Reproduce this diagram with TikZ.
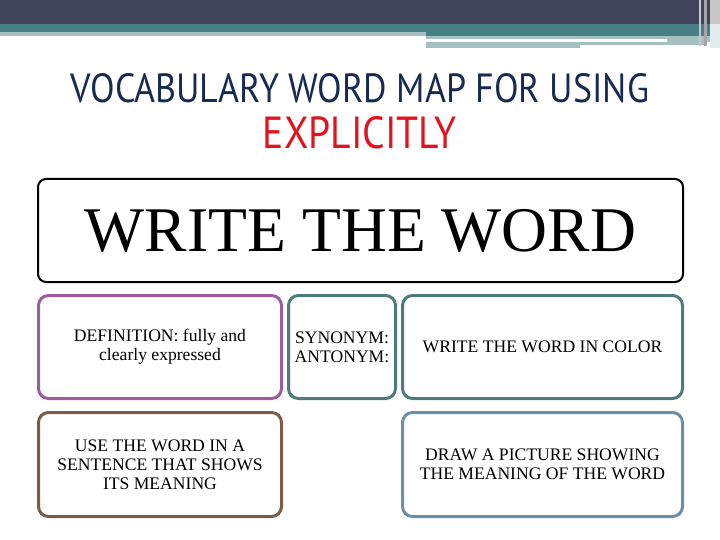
\documentclass[tikz,border=0pt]{standalone}
\usepackage{fontspec}
\setmainfont{Liberation Serif}
\setsansfont{PT Sans}
\usepackage{graphicx}
\definecolor{topdark}{HTML}{41435A}
\definecolor{topteal}{HTML}{467F84}
\definecolor{toplight}{HTML}{A6C0C2}
\definecolor{titlenavy}{HTML}{172B52}
\definecolor{titlered}{HTML}{E0141E}
\definecolor{cpurple}{HTML}{9C5D9C}
\definecolor{cteal}{HTML}{4E7B7B}
\definecolor{cbrown}{HTML}{7D5C45}
\definecolor{cblue}{HTML}{6B8FA8}
\tikzset{
  cell/.style={draw=#1, line width=3pt, rounded corners=10pt, align=center,
    inner sep=2pt, font=\fontsize{17.6}{19}\selectfont, text=black},
  bigcell/.style={draw=black, line width=2pt, rounded corners=8pt, align=center, inner sep=0pt},
}
\begin{document}
\begin{tikzpicture}[x=1pt,y=-1pt]
\useasboundingbox (0,0) rectangle (720,540);
% header bands
\fill[topdark] (0,0) rectangle (720,24);
\fill[topteal] (0,24) rectangle (426,32);
\fill[toplight] (0,32) rectangle (426,36);
\fill[topteal] (426,24) rectangle (720,36);
\fill[toplight] (426,36) rectangle (720,39);
\fill[toplight] (667,39) rectangle (720,42);
\fill[toplight] (426,42) rectangle (580,48);
\fill[toplight] (580,42) rectangle (707,45);
\fill[white!70!topdark] (699,0) rectangle (701,46);
\fill[black!35] (704,0) rectangle (707,46);
\fill[black!22] (710,0) rectangle (720,24);
\fill[white!85!topteal] (710,24) rectangle (720,48);
% title
\node[inner sep=0pt, text=titlenavy] (t1) at (360,88)
  {\resizebox{578pt}{29pt}{\sffamily VOCABULARY WORD MAP FOR USING}};
\node[inner sep=0pt, text=titlered] (t2) at (360,133)
  {\resizebox{194pt}{32pt}{\sffamily EXPLICITLY}};
% boxes
\node[bigcell, minimum width=645pt, minimum height=103pt] (word) at (360.5,230.5)
  {\resizebox{551pt}{!}{WRITE THE WORD}};
\node[cell=cpurple, minimum width=243pt, minimum height=103pt] (def) at (160,347)
  {DEFINITION:\ fully and\\clearly expressed};
\node[cell=cteal, minimum width=107pt, minimum height=103pt] (syn) at (342,347)
  {SYNONYM:\\ANTONYM:};
\node[cell=cteal, minimum width=280pt, minimum height=103pt] (color) at (542.5,347)
  {WRITE THE WORD IN COLOR};
\node[cell=cbrown, minimum width=243pt, minimum height=104pt] (sent) at (160,464.5)
  {USE THE WORD IN A\\SENTENCE THAT SHOWS\\ITS MEANING};
\node[cell=cblue, minimum width=280pt, minimum height=104pt] (draw) at (542.5,464.5)
  {DRAW A PICTURE SHOWING\\THE MEANING OF THE WORD};
\end{tikzpicture}
\end{document}
